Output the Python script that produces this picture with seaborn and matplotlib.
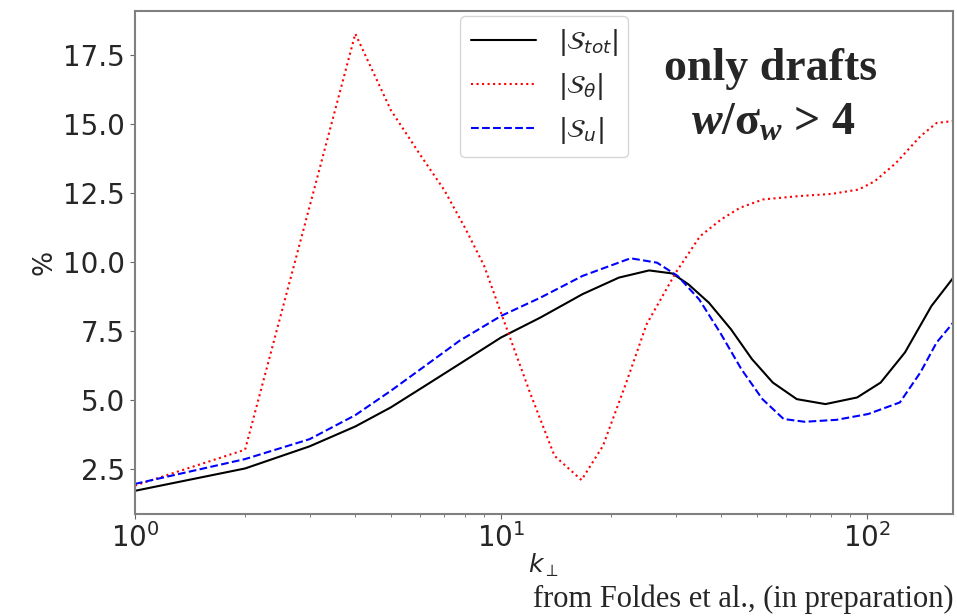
import matplotlib
matplotlib.use('Agg')
import matplotlib.pyplot as plt
import numpy as np
import pandas as pd
import seaborn as sns

# Values (k_perp on a log axis, % on y).
k_tot = [1, 2, 3, 4, 5, 6.2, 7.7, 10, 12.8, 16.7, 21, 25.4, 29.4, 32.5, 37,
         42.5, 48.5, 55.3, 64.3, 77, 94, 109, 127, 150, 172]
s_tot = [1.71, 2.52, 3.32, 4.04, 4.73, 5.51, 6.3, 7.26, 7.98, 8.83, 9.43, 9.69,
         9.58, 9.19, 8.52, 7.56, 6.48, 5.63, 5.03, 4.85, 5.09, 5.63, 6.72, 8.4, 9.42]

k_theta = [1, 2, 3, 4, 5, 6, 7, 8, 9, 10, 12, 14, 16.6, 19, 22, 25, 30, 35, 40,
           45, 52, 65, 80, 95, 105, 120, 140, 155, 172]
s_theta = [1.9, 3.2, 12.0, 18.26, 15.5, 13.9, 12.6, 11.2, 9.85, 8.16, 5.27, 2.98,
           2.1, 3.34, 5.63, 7.74, 9.6, 10.93, 11.54, 11.96, 12.26, 12.38, 12.46,
           12.62, 12.92, 13.58, 14.55, 15.03, 15.1]

k_u = [1, 2, 3, 4, 5, 6.2, 7.7, 10, 12.8, 16.7, 22.6, 26.7, 30.4, 34.8, 39.7,
       45.4, 51.8, 59.2, 67.6, 82.5, 100.7, 123, 140, 155, 172]
s_u = [1.96, 2.86, 3.58, 4.45, 5.33, 6.23, 7.14, 8.04, 8.7, 9.49, 10.13, 9.97,
       9.49, 8.64, 7.44, 6.11, 5.03, 4.31, 4.21, 4.28, 4.49, 4.91, 6.0, 7.08, 7.8]

labels = [r'$|\mathcal{S}_{tot}|$', r'$|\mathcal{S}_{\theta}|$', r'$|\mathcal{S}_{u}|$']

sns.set_style('ticks')
plt.rcParams['font.family'] = ['DejaVu Sans']
plt.rcParams['mathtext.fontset'] = 'dejavusans'
plt.rcParams['mathtext.rm'] = 'Liberation Serif:bold'
plt.rcParams['mathtext.it'] = 'Liberation Serif:italic:bold'
plt.rcParams['mathtext.bf'] = 'Liberation Serif:bold'

fig = plt.figure(figsize=(9.57, 6.16), dpi=100)
ax = fig.add_axes([0.141, 0.166, 0.855, 0.816])

sns.lineplot(x=k_tot, y=s_tot, ax=ax, color='black', lw=1.5, label=labels[0])
sns.lineplot(x=k_theta, y=s_theta, ax=ax, color='red', lw=1.5, ls=':', label=labels[1])
sns.lineplot(x=k_u, y=s_u, ax=ax, color='blue', lw=1.5, ls='--', label=labels[2])

ax.set_xscale('log')
ax.set_xlim(1, 172)
ax.set_ylim(0.88, 19.08)
ax.set_yticks([2.5, 5.0, 7.5, 10.0, 12.5, 15.0, 17.5])
ax.tick_params(labelsize=20, color='0.4')
ax.tick_params(axis='x', which='minor', color='0.4')
for sp in ax.spines.values():
    sp.set_color('0.5')
    sp.set_linewidth(1.5)
ax.set_xlabel(r'$k_\perp$', fontsize=18, labelpad=-1)
ax.set_ylabel('%', fontsize=19)

leg = ax.legend(loc='upper center', fontsize=19, handlelength=2.5, framealpha=0.8,
                borderaxespad=0.2)

ax.text(0.777, 0.885, 'only drafts', transform=ax.transAxes, ha='center', va='center',
        fontsize=33, fontweight='bold', family='Liberation Serif')
ax.text(0.78, 0.775, r'$w/\mathrm{\sigma}_w$ > 4', transform=ax.transAxes, ha='center',
        va='center', fontsize=33, fontweight='bold', family='Liberation Serif',
        math_fontfamily='custom')

fig.text(0.996, 0.004, 'from Foldes et al., (in preparation)', ha='right', va='bottom',
         fontsize=22, family='Liberation Serif')

fig.savefig('out.png', dpi=100)
